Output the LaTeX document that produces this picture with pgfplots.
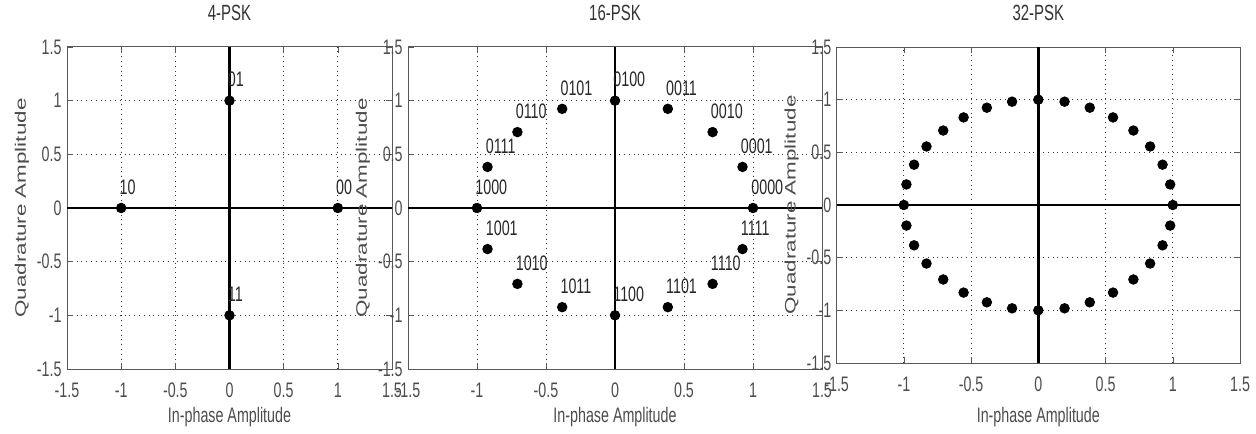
\documentclass[border=0pt]{standalone}
\usepackage{fontspec}
\setmainfont{Liberation Sans}[FakeStretch=0.68]
\newfontfamily\ylabfont{Liberation Sans}
\usepackage{graphicx}
\usepackage{pgfplots}
\usepackage{pgfplotstable}
\pgfplotsset{compat=1.18}

\pgfplotstableread{
x y lab
1 0 00
0 1 01
-1 0 10
0 -1 11
}\pskfour

\pgfplotstableread{
x y lab
1 0 0000
0.9239 0.3827 0001
0.7071 0.7071 0010
0.3827 0.9239 0011
0 1 0100
-0.3827 0.9239 0101
-0.7071 0.7071 0110
-0.9239 0.3827 0111
-1 0 1000
-0.9239 -0.3827 1001
-0.7071 -0.7071 1010
-0.3827 -0.9239 1011
0 -1 1100
0.3827 -0.9239 1101
0.7071 -0.7071 1110
0.9239 -0.3827 1111
}\psksixteen

\pgfplotstableread{
x y
1 0
0.9808 0.1951
0.9239 0.3827
0.8315 0.5556
0.7071 0.7071
0.5556 0.8315
0.3827 0.9239
0.1951 0.9808
0 1
-0.1951 0.9808
-0.3827 0.9239
-0.5556 0.8315
-0.7071 0.7071
-0.8315 0.5556
-0.9239 0.3827
-0.9808 0.1951
-1 0
-0.9808 -0.1951
-0.9239 -0.3827
-0.8315 -0.5556
-0.7071 -0.7071
-0.5556 -0.8315
-0.3827 -0.9239
-0.1951 -0.9808
0 -1
0.1951 -0.9808
0.3827 -0.9239
0.5556 -0.8315
0.7071 -0.7071
0.8315 -0.5556
0.9239 -0.3827
0.9808 -0.1951
}\pskthirtytwo

\pgfplotsset{
  pskax/.style={
    scale only axis, anchor=south west,
    xmin=-1.5, xmax=1.5, ymin=-1.5, ymax=1.5,
    xtick={-1.5,-1,-0.5,0,0.5,1,1.5},
    ytick={-1.5,-1,-0.5,0,0.5,1,1.5},
    xticklabels={-1.5,-1,-0.5,0,0.5,1,1.5},
    yticklabels={-1.5,-1,-0.5,0,0.5,1,1.5},
    grid=major,
    major grid style={dotted, black!80, line width=0.5pt},
    axis line style={black!65, line width=0.5pt},
    tick align=inside, major tick length=3pt, tick style={black!65},
    ticklabel style={text=black!70, inner sep=0pt},
    xticklabel style={anchor=center, yshift=-10.5pt},
    yticklabel style={anchor=east, xshift=-2.5pt},
    title style={at={(axis description cs:0.5,1)}, anchor=center, yshift=10.8pt, text=black!80, font=\fontsize{11}{12}\selectfont},
    xlabel style={at={(axis description cs:0.5,0)}, anchor=center, yshift=-24pt, text=black!70},
    ylabel style={anchor=center, text=black!70, inner sep=0pt},
    xlabel={In-phase Amplitude},
    ylabel={\scalebox{1}[0.68]{\ylabfont\fontsize{11.2}{12}\selectfont Quadrature Amplitude}},
    clip=false,
  },
  pts/.style={only marks, mark=*, mark size=2.4pt, black},
  lbls/.style={only marks, mark=*, mark size=2.4pt, black,
    point meta=explicit symbolic,
    nodes near coords={\pgfplotspointmeta},
    every node near coord/.style={anchor=west, inner sep=0pt, xshift=-1pt, yshift=10.5pt, text=black!85}},
}

\begin{document}
\begin{tikzpicture}[font=\fontsize{10.5}{12}\selectfont]
\useasboundingbox (0,0) rectangle (628pt,216.5pt);

\begin{axis}[pskax, at={(33.5pt,32pt)}, width=162.5pt, height=161pt, title={4-PSK},
  ylabel style={at={(axis description cs:-0.1385,0.5)}}]
\addplot[black, line width=1.2pt] coordinates {(-1.5,0) (1.5,0)};
\addplot[black, line width=1.2pt] coordinates {(0,-1.5) (0,1.5)};
\addplot[lbls] table[x=x, y=y, meta=lab] {\pskfour};
\end{axis}

\begin{axis}[pskax, at={(204pt,32pt)}, width=207pt, height=161pt, title={16-PSK},
  ylabel style={at={(axis description cs:-0.1087,0.5)}}]
\addplot[black, line width=1.2pt] coordinates {(-1.5,0) (1.5,0)};
\addplot[black, line width=1.2pt] coordinates {(0,-1.5) (0,1.5)};
\addplot[lbls] table[x=x, y=y, meta=lab] {\psksixteen};
\end{axis}

\begin{axis}[pskax, at={(418.3pt,35pt)}, width=201.7pt, height=158pt, title={32-PSK},
  ylabel style={at={(axis description cs:-0.1116,0.5)}},
  xlabel style={yshift=-3pt}]
\addplot[black, line width=1.2pt] coordinates {(-1.5,0) (1.5,0)};
\addplot[black, line width=1.2pt] coordinates {(0,-1.5) (0,1.5)};
\addplot[pts] table[x=x, y=y] {\pskthirtytwo};
\end{axis}
\end{tikzpicture}
\end{document}
